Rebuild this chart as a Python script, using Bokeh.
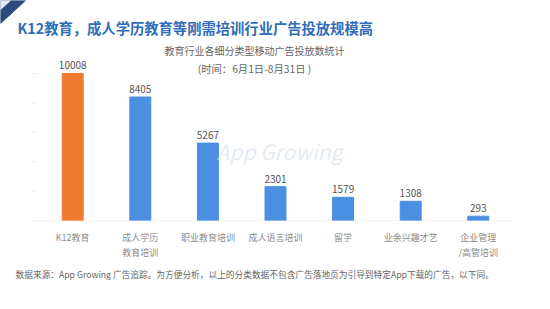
from bokeh.plotting import figure
from bokeh.layouts import column
from bokeh.models import Label, FactorRange, ColumnDataSource, Range1d
from bokeh.transform import dodge
from bokeh.core.properties import value
from bokeh.embed import file_html
from bokeh.resources import INLINE

categories = ["K12教育", "成人学历\n教育培训", "职业教育培训", "成人语言培训", "留学", "业余兴趣才艺", "企业管理\n/高管培训"]
counts = [10008, 8405, 5267, 2301, 1579, 1308, 293]
colors = ["#EE7B30", "#4A8FE2", "#4A8FE2", "#4A8FE2", "#4A8FE2", "#4A8FE2", "#4A8FE2"]
labels = [str(v) for v in counts]
y_ticks = [0, 2000, 4000, 6000, 8000, 10000]

title = "K12教育，成人学历教育等刚需培训行业广告投放规模高"
subtitle1 = "教育行业各细分类型移动广告投放数统计"
subtitle2 = "(时间：6月1日-8月31日 )"
footer = "数据来源：App Growing 广告追踪。为方便分析，以上的分类数据不包含广告落地页为引导到特定App下载的广告，以下同。"
watermark = "App Growing"

W = 550
FONT = "Noto Sans CJK SC"
TOP_H, MAIN_H, FOOT_H = 58, 204, 47


def blank_fig(h):
    f = figure(width=W, height=h, x_range=Range1d(0, W), y_range=Range1d(h, 0),
               x_axis_type=None, y_axis_type=None, output_backend="svg",
               toolbar_location=None, min_border=0)
    f.outline_line_color = None
    f.grid.visible = False
    f.background_fill_color = "#FFFFFF"
    f.border_fill_color = "#FFFFFF"
    return f


# ---------- header ----------
top = blank_fig(TOP_H)
top.patch(x=[0, 25, 0], y=[0, 0, 23], color="#2C4C7E")
top.patch(x=[0, 10, 0], y=[0, 0, 9], color="#E3EAF3")
top.text(x=[17], y=[27], text=[title], text_font=value(FONT), text_font_size="14.3px",
         text_font_style="bold", text_color="#2F6DB8", text_baseline="middle", text_align="left")
top.text(x=[254], y=[50], text=[subtitle1], text_font=value(FONT), text_font_size="10px",
         text_color="#666666", text_baseline="middle", text_align="center")

# ---------- chart ----------
MT, MB = 2, 41
n = len(categories)
pad = (W / 67.6 - n) / 2
p = figure(width=W, height=MAIN_H,
           x_range=FactorRange(*categories, range_padding=pad, range_padding_units="absolute"),
           y_range=(0, 10890), y_axis_type=None,
           output_backend="svg", toolbar_location=None,
           min_border_left=0, min_border_right=0, min_border_top=MT, min_border_bottom=MB)
p.background_fill_color = "#FFFFFF"
p.border_fill_color = "#FFFFFF"
p.outline_line_color = None
p.grid.visible = False

FRAME_BOTTOM = MAIN_H - MB  # local pixel


def lab(x, y_local, text, size, color, align="left", italic=False, alpha=1.0):
    l = Label(x=x, y=FRAME_BOTTOM - y_local, x_units="screen", y_units="screen", text=text,
              text_font=FONT, text_font_size=size, text_color=color,
              text_align=align, text_baseline="middle", text_alpha=alpha,
              text_font_style="italic" if italic else "normal")
    p.add_layout(l)


lab(279, 151 - TOP_H, watermark, "21px", "#D3DDEB", align="center", italic=True, alpha=0.6)
lab(254, 69 - TOP_H, subtitle2, "10.3px", "#666666", align="center")

# faint y tick marks and the baseline, placed relative to the first/last category
tick_src = ColumnDataSource(dict(c=[categories[0]] * len(y_ticks), y=y_ticks))
p.segment(x0=dodge("c", -0.6, range=p.x_range), x1=dodge("c", -0.54, range=p.x_range),
          y0="y", y1="y", source=tick_src, line_color="#EDEDED", line_width=1)
base_src = ColumnDataSource(dict(c0=[categories[0]], c1=[categories[-1]], y=[0]))
p.segment(x0=dodge("c0", -0.55, range=p.x_range), x1=dodge("c1", 0.48, range=p.x_range),
          y0="y", y1="y", source=base_src, line_color="#E6E6E6", line_width=1)

src = ColumnDataSource(dict(cat=categories, v=counts, c=colors, lab=labels))
p.vbar(x="cat", top="v", width=0.31, color="c", source=src)
p.text(x="cat", y="v", text="lab", source=src, text_align="center", text_baseline="bottom",
       y_offset=-4, text_font=value(FONT), text_font_size="10px", text_color="#555555")

xa = p.xaxis[0]
xa.axis_line_color = None
xa.major_tick_line_color = None
xa.minor_tick_line_color = None
xa.major_label_text_font = FONT
xa.major_label_text_font_size = "9px"
xa.major_label_text_color = "#8A8A8A"
xa.major_label_standoff = 4

# ---------- footer ----------
foot = blank_fig(FOOT_H)
foot.text(x=[15], y=[274 - TOP_H - MAIN_H], text=[footer], text_font=value(FONT),
          text_font_size="8.7px", text_color="#666666", text_baseline="middle", text_align="left")

layout = column(top, p, foot, spacing=0)
open("out.html", "w").write(file_html(layout, INLINE))
